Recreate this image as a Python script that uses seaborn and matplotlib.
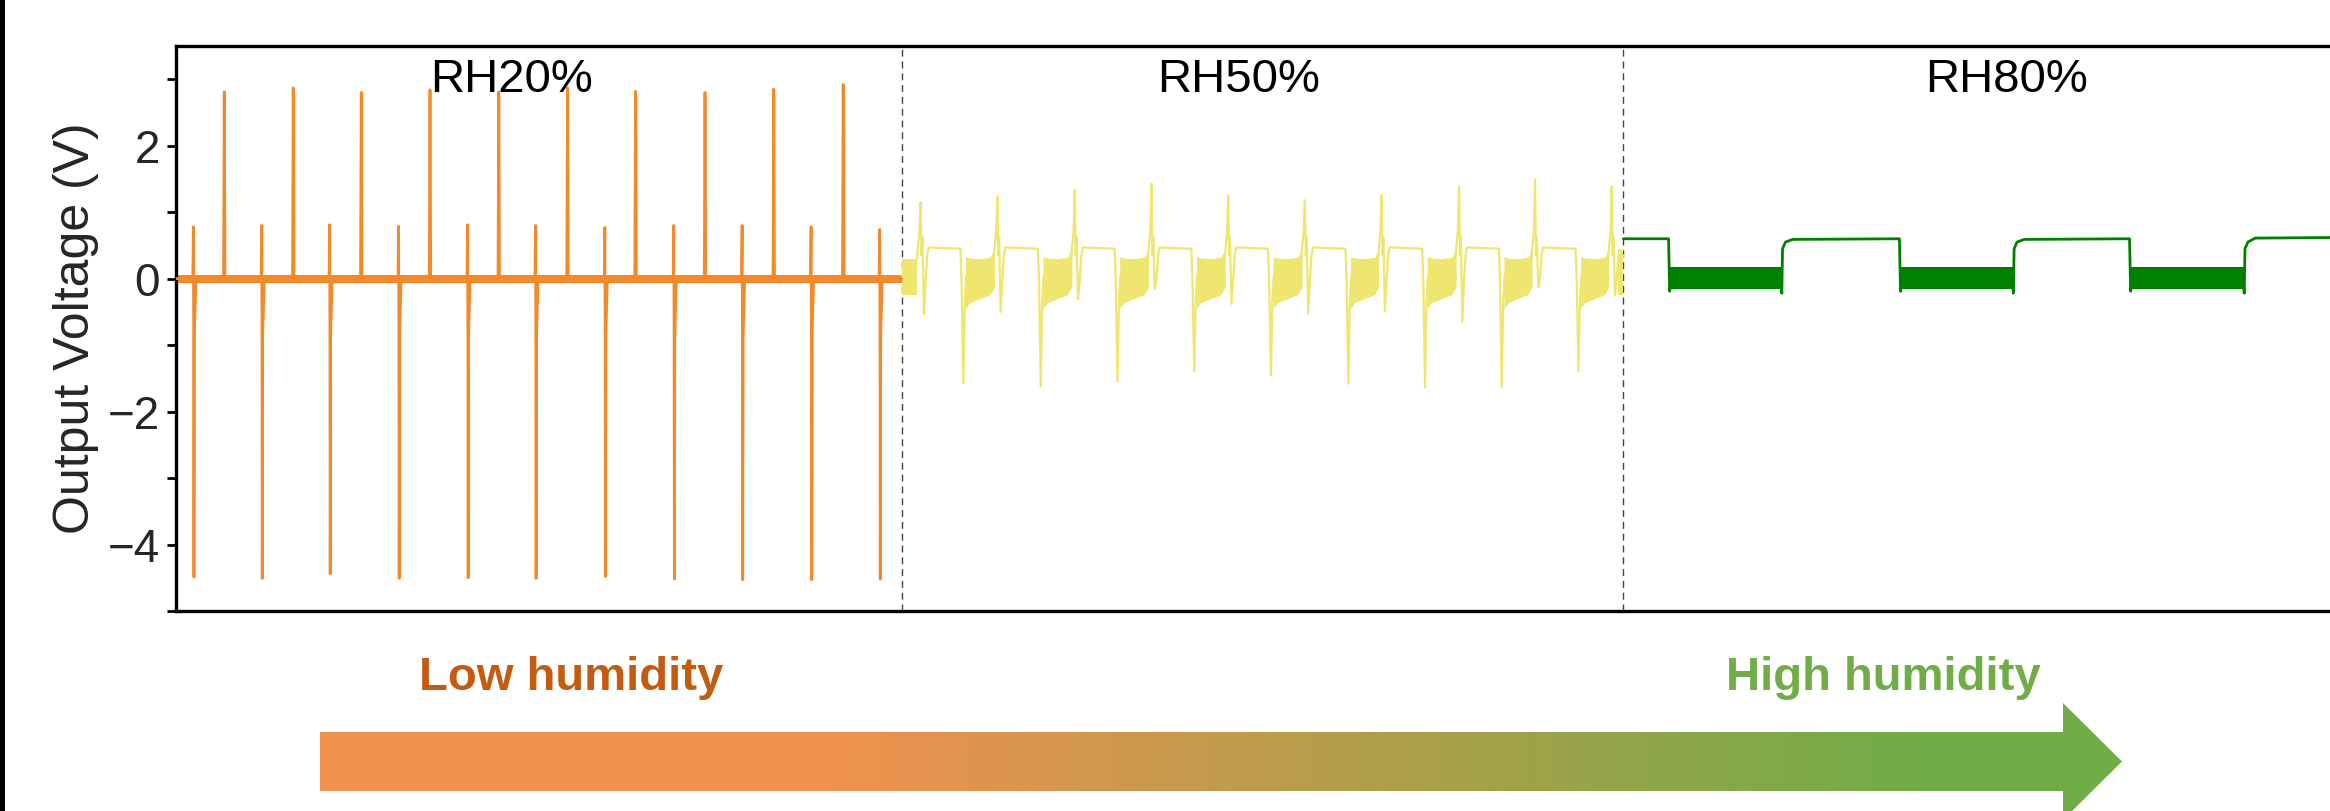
import numpy as np
import pandas as pd
import matplotlib
matplotlib.use("Agg")
import matplotlib.pyplot as plt
import seaborn as sns
from matplotlib.patches import Polygon, Rectangle
from matplotlib.colors import LinearSegmentedColormap
from matplotlib.ticker import MultipleLocator

sns.set_style("ticks")
plt.rcParams['font.family'] = ['Liberation Sans', 'DejaVu Sans']

# ---------------- data (time in s, voltage in V) ----------------
section_labels = ["RH20%", "RH50%", "RH80%"]
section_label_t = [46.3, 146.8, 252.9]
section_label_v = 2.81
section_bounds = [100.3, 200.0]
t_end = 300.0

# RH20% : paired spikes (small +, large -) and tall + spikes
rh20_neg_t = [2.44, 11.88, 21.27, 30.80, 40.33, 49.72, 59.30, 68.83, 78.27, 87.80, 97.28]
rh20_neg_up = [0.78, 0.80, 0.81, 0.79, 0.81, 0.80, 0.77, 0.80, 0.80, 0.78, 0.74]
rh20_neg_down = [-4.49, -4.51, -4.44, -4.51, -4.50, -4.51, -4.48, -4.52, -4.53, -4.53, -4.52]
rh20_pos_t = [6.67, 16.2, 25.6, 35.1, 44.6, 54.1, 63.5, 73.1, 82.6, 92.2]
rh20_pos_up = [2.81, 2.87, 2.80, 2.84, 2.81, 2.87, 2.82, 2.80, 2.85, 2.92]
rh20_band = [-0.06, 0.05]

# RH50%
rh50_up_t = [102.9, 113.5, 124.2, 134.8, 145.4, 156.0, 166.6, 177.3, 187.8, 198.4]
rh50_up_v = [1.15, 1.24, 1.34, 1.43, 1.25, 1.18, 1.26, 1.39, 1.49, 1.39]
rh50_rebound_v = [-0.54, -0.50, -0.31, -0.15, -0.38, -0.52, -0.49, -0.65, -0.13, -0.25]
rh50_drop_t = [108.8, 119.5, 130.1, 140.7, 151.3, 162.0, 172.6, 183.2, 193.8]
rh50_drop_v = [-1.57, -1.62, -1.55, -1.39, -1.45, -1.58, -1.64, -1.63, -1.39]
rh50_plateau = [0.47, 0.45]
rh50_band_pos = [0.0, 0.15, 0.5, 0.85, 1.0]
rh50_band_hi = [0.33, 0.31, 0.30, 0.32, 0.45]
rh50_band_lo = [-0.45, -0.36, -0.30, -0.24, -0.12]
rh50_first_band = [-0.25, 0.30]
rh50_last_band = [-0.25, 0.45]

# RH80%
rh80_fall_t = [206.3, 238.2, 270.0]
rh80_rise_t = [221.9, 253.9, 285.8]
rh80_high = [0.60, 0.60, 0.60, 0.62]
rh80_band = [-0.16, 0.17]

c_orange = "#F28A2C"
c_yellow = "#EEE66E"
c_green = "#008000"

# ---------------- build traces from the read events ----------------
def rh20_trace():
    ev = [(t, "n", u, d) for t, u, d in zip(rh20_neg_t, rh20_neg_up, rh20_neg_down)]
    ev += [(t, "p", u, None) for t, u in zip(rh20_pos_t, rh20_pos_up)]
    ev.sort()
    pts = [(0.0, 0.0)]
    for t, kind, u, d in ev:
        if kind == "n":
            pts += [(t - 0.12, 0.0), (t - 0.04, u), (t, -0.85), (t + 0.04, d),
                    (t + 0.1, -0.85), (t + 0.3, -0.05), (t + 0.6, -0.02)]
        else:
            pts += [(t - 0.1, 0.0), (t, u), (t + 0.1, 0.03), (t + 0.4, 0.02)]
    pts += [(section_bounds[0], 0.0)]
    return pts

def rh50_trace():
    pts = [(section_bounds[0], 0.05)]
    for i, (tu, vu, rb) in enumerate(zip(rh50_up_t, rh50_up_v, rh50_rebound_v)):
        pts += [(tu - 0.5, 0.3), (tu - 0.15, 0.75), (tu, vu), (tu + 0.12, 0.35),
                (tu + 0.25, 0.62), (tu + 0.45, rb), (tu + 0.7, 0.0), (tu + 0.9, 0.35)]
        if i < len(rh50_drop_t):
            td, dv = rh50_drop_t[i], rh50_drop_v[i]
            pts += [(tu + 1.1, rh50_plateau[0]), (td - 0.4, rh50_plateau[1]),
                    (td - 0.25, 0.0), (td, dv), (td + 0.2, -0.35), (td + 0.4, 0.05)]
        else:
            pts += [(tu + 1.1, 0.3), (section_bounds[1], 0.35)]
    return pts

def rh80_trace():
    pts = [(section_bounds[1], rh80_high[0])]
    for i, (tf, tr) in enumerate(zip(rh80_fall_t, rh80_rise_t)):
        pts += [(tf - 0.05, rh80_high[i]), (tf + 0.1, -0.19), (tf + 0.25, -0.1),
                (tr - 0.1, -0.1), (tr, -0.22), (tr + 0.1, 0.45), (tr + 0.5, 0.55),
                (tr + 1.5, rh80_high[i + 1] - 0.01)]
    pts += [(t_end, rh80_high[-1])]
    return pts

def to_df(pts):
    return pd.DataFrame(pts, columns=["t", "v"])

# ---------------- figure ----------------
W, H = 2330, 811
fig = plt.figure(figsize=(W / 100, H / 100), dpi=100)
ax = fig.add_axes([176 / W, 1 - 611 / H, (2347 - 176) / W, (611 - 46) / H])

# noisy bands
ax.fill_between([0, section_bounds[0]], rh20_band[0], rh20_band[1], color=c_orange, lw=0, zorder=2)
ax.fill_between([section_bounds[0], rh50_up_t[0] - 0.5], rh50_first_band[0], rh50_first_band[1],
                color=c_yellow, lw=0, zorder=2)
for i, td in enumerate(rh50_drop_t):
    s, e = td + 0.3, rh50_up_t[i + 1] - 0.4
    xs = [s + p * (e - s) for p in rh50_band_pos]
    ax.fill_between(xs, rh50_band_lo, rh50_band_hi, color=c_yellow, lw=0, zorder=2)
ax.fill_between([rh50_up_t[-1] + 0.9, section_bounds[1]], rh50_last_band[0], rh50_last_band[1],
                color=c_yellow, lw=0, zorder=2)
for tf, tr in zip(rh80_fall_t, rh80_rise_t):
    ax.fill_between([tf + 0.1, tr], rh80_band[0], rh80_band[1], color=c_green, lw=0, zorder=2)

sns.lineplot(data=to_df(rh20_trace()), x="t", y="v", ax=ax, sort=False, estimator=None,
             color=c_orange, lw=2.0, legend=False, zorder=3)
sns.lineplot(data=to_df(rh50_trace()), x="t", y="v", ax=ax, sort=False, estimator=None,
             color=c_yellow, lw=1.6, legend=False, zorder=3)
sns.lineplot(data=to_df(rh80_trace()), x="t", y="v", ax=ax, sort=False, estimator=None,
             color=c_green, lw=2.0, legend=False, zorder=3)

for b in section_bounds:
    ax.axvline(b, color="#444444", lw=1.0, ls=(0, (5, 3.5)), zorder=1)

for lab, t in zip(section_labels, section_label_t):
    ax.text(t, section_label_v, lab, ha="center", va="baseline", fontsize=34, color="black")

ax.set_xlim(0, t_end)
ax.set_ylim(-5, 3.5)
ax.yaxis.set_major_locator(MultipleLocator(2))
ax.yaxis.set_minor_locator(MultipleLocator(1))
ax.tick_params(axis="y", which="both", direction="out", length=6.5, width=2.0,
               labelsize=33, pad=5, color="black")
ax.tick_params(axis="x", which="both", bottom=False, labelbottom=False)
ax.set_xlabel("")
ax.set_ylabel("Output Voltage (V)", fontsize=36, labelpad=6)
for sp in ["top", "bottom", "left", "right"]:
    ax.spines[sp].set_linewidth(2.4)
    ax.spines[sp].set_color("black")

# ---------------- overlay: arrow, humidity labels, left bar ----------------
ov = fig.add_axes([0, 0, 1, 1])
ov.patch.set_visible(False)
ov.axis("off")

arrow = Polygon([(320, 732), (2063, 732), (2063, 703), (2122, 761.5),
                 (2063, 820), (2063, 791), (320, 791)], closed=True,
                facecolor="none", edgecolor="none")
ov.add_patch(arrow)
span = 2122 - 320
cmap = LinearSegmentedColormap.from_list(
    "hum", [(0.0, "#F0914F"), ((830 - 320) / span, "#F0914F"),
            ((1930 - 320) / span, "#70AD47"), (1.0, "#70AD47")])
grad = np.linspace(0, 1, 600).reshape(1, -1)
im = ov.imshow(grad, cmap=cmap, extent=[320, 2122, 820, 703], aspect="auto",
               interpolation="bilinear")
im.set_clip_path(arrow)

ov.text(571, 690, "Low humidity", ha="center", va="baseline", fontsize=34,
        fontweight="bold", color="#C55A11")
ov.text(1883, 690, "High humidity", ha="center", va="baseline", fontsize=34,
        fontweight="bold", color="#70AD47")
ov.add_patch(Rectangle((0, 0), 5, H, facecolor="black", edgecolor="none"))

ov.set_xlim(0, W)
ov.set_ylim(H, 0)

fig.savefig("out.png", dpi=100)
